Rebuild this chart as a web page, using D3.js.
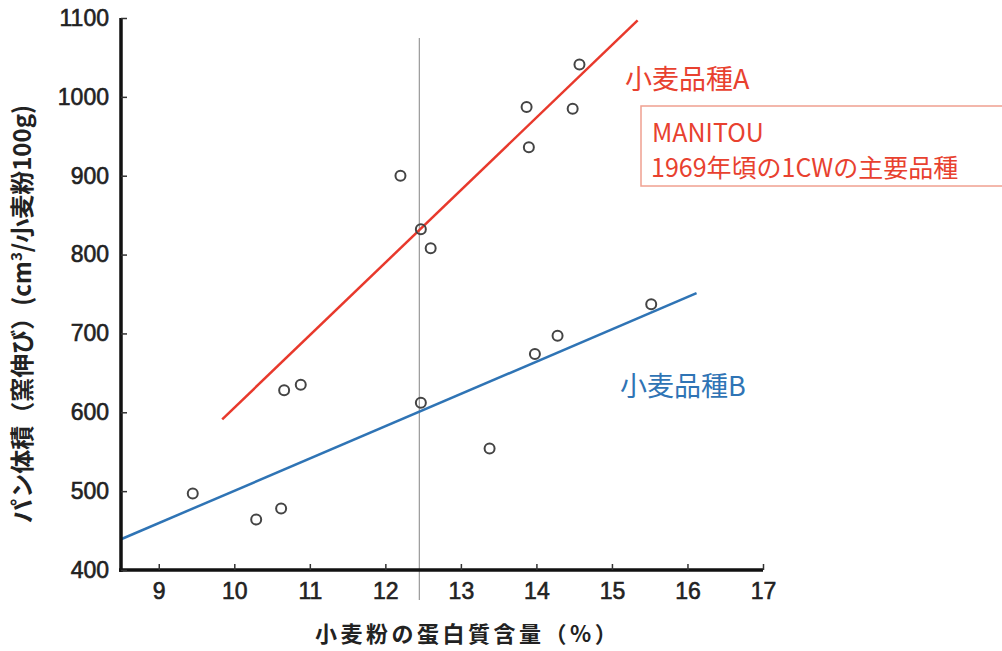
<!DOCTYPE html>
<html>
<head>
<meta charset="utf-8">
<script src="https://cdn.jsdelivr.net/npm/d3@7"></script>
<style>
  body { margin: 0; background: #fff; }
  svg { display: block; }
</style>
</head>
<body>
<div id="chart"></div>
<script>
// Data
const xTicks = [9, 10, 11, 12, 13, 14, 15, 16, 17];
const yTicks = [400, 500, 600, 700, 800, 900, 1000, 1100];

// wheat A points (protein %, loaf volume)
const pointsA = [
  [12.2, 900], [12.47, 832], [12.6, 808], [13.87, 987], [13.9, 936],
  [14.48, 985], [14.57, 1041], [10.66, 628], [10.88, 635]
];
// wheat B points
const pointsB = [
  [9.45, 497], [10.29, 464], [10.62, 478], [12.47, 612], [13.38, 554],
  [13.98, 674], [14.28, 697], [15.52, 737]
];
// regression lines (end points)
const lineA = [[9.84, 591], [15.34, 1097]];
const lineB = [[8.5, 439], [16.12, 751]];
const refX = 12.45;

const W = 1002, H = 651;
const margin = {top: 18, right: 239, bottom: 81, left: 121};
const width = W - margin.left - margin.right,
      height = H - margin.top - margin.bottom;

const svg = d3.select("#chart").append("svg")
    .attr("width", W)
    .attr("height", H);

const g = svg.append("g")
    .attr("transform", `translate(${margin.left},${margin.top})`);

const x = d3.scaleLinear().domain([8.5, 17]).range([0, width]);
const y = d3.scaleLinear().domain([400, 1100]).range([height, 0]);

const numFont = "'Liberation Sans', Arial, sans-serif";
const jpFont = "'Noto Sans CJK JP', 'Noto Sans', sans-serif";

// vertical reference line
g.append("line")
    .attr("x1", x(refX)).attr("x2", x(refX))
    .attr("y1", 20).attr("y2", height + 30)
    .attr("stroke", "#999")
    .attr("stroke-width", 1.2);

// regression lines
const line = d3.line().x(d => x(d[0])).y(d => y(d[1]));
g.append("path").datum(lineA)
    .attr("d", line)
    .attr("fill", "none")
    .attr("stroke", "#e8392c")
    .attr("stroke-width", 2.5);
g.append("path").datum(lineB)
    .attr("d", line)
    .attr("fill", "none")
    .attr("stroke", "#2f74b5")
    .attr("stroke-width", 2.5);

// points
g.selectAll("circle.pt")
  .data(pointsA.concat(pointsB))
  .join("circle")
    .attr("class", "pt")
    .attr("cx", d => x(d[0]))
    .attr("cy", d => y(d[1]))
    .attr("r", 5)
    .attr("fill", "none")
    .attr("stroke", "#444")
    .attr("stroke-width", 2);

// axes
const xAxis = g.append("g")
    .attr("transform", `translate(0,${height})`)
    .call(d3.axisBottom(x).tickValues(xTicks).tickFormat(d3.format("d"))
      .tickSizeInner(-6).tickSizeOuter(0).tickPadding(13));
const yAxis = g.append("g")
    .call(d3.axisLeft(y).tickValues(yTicks).tickFormat(d3.format("d"))
      .tickSizeInner(-6).tickSizeOuter(0).tickPadding(12));

[xAxis, yAxis].forEach(a => {
  a.select(".domain").attr("stroke", "#111").attr("stroke-width", 3.5);
  a.selectAll(".tick line").attr("stroke", "#333").attr("stroke-width", 1.5);
  a.selectAll(".tick text")
    .style("font-family", numFont)
    .style("font-size", "23px")
    .attr("fill", "#222")
    .attr("stroke", "#222")
    .attr("stroke-width", 0.6);
});
xAxis.select(".domain").attr("d", `M-2,0H${width}`);
yAxis.select(".domain").attr("d", `M0,${height + 2}V0`);

// axis titles
g.append("text")
    .attr("x", 315 - margin.left)
    .attr("y", height + 72)
    .attr("text-anchor", "start")
    .style("font-family", jpFont)
    .style("font-size", "22px")
    .style("font-weight", "bold")
    .style("letter-spacing", "3.5px")
    .attr("fill", "#222")
    .text("小麦粉の蛋白質含量（%）");

const yTitle = g.append("text")
    .attr("transform", `translate(${-margin.left + 31},${height / 2 + 20}) rotate(-90)`)
    .attr("text-anchor", "middle")
    .style("font-family", jpFont)
    .style("font-size", "24px")
    .style("font-weight", "bold")
    .attr("fill", "#222");
yTitle.append("tspan").text("パン体積（窯伸び）(cm");
yTitle.append("tspan").attr("dy", -9).style("font-size", "15px").text("3");
yTitle.append("tspan").attr("dy", 9).text("/小麦粉100g)");

// series labels
svg.append("text")
    .attr("x", 625).attr("y", 89)
    .style("font-family", jpFont)
    .style("font-size", "27px")
    .attr("fill", "#e8412f")
    .text("小麦品種A");
svg.append("text")
    .attr("x", 620).attr("y", 396)
    .style("font-family", jpFont)
    .style("font-size", "27px")
    .attr("fill", "#2f74b5")
    .text("小麦品種B");

// note box
svg.append("rect")
    .attr("x", 641).attr("y", 106)
    .attr("width", 380).attr("height", 80)
    .attr("fill", "#fff")
    .attr("stroke", "#f0a090")
    .attr("stroke-width", 1.5);
svg.append("text")
    .attr("x", 652).attr("y", 142)
    .style("font-family", jpFont)
    .style("font-size", "25px")
    .attr("fill", "#e8412f")
    .text("MANITOU");
svg.append("text")
    .attr("x", 651).attr("y", 177)
    .style("font-family", jpFont)
    .style("font-size", "25px")
    .attr("fill", "#e8412f")
    .text("1969年頃の1CWの主要品種");
</script>
</body>
</html>
